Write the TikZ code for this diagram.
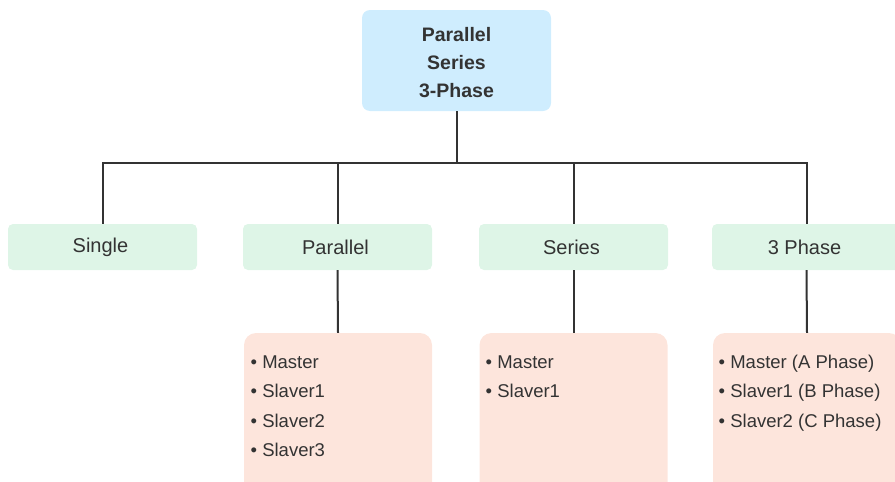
\documentclass[tikz,border=0pt]{standalone}
\usepackage{fontspec}
\setmainfont{Liberation Sans}
\usetikzlibrary{calc}
\definecolor{topblue}{RGB}{207,237,254}
\definecolor{midgreen}{RGB}{222,245,231}
\definecolor{lowpink}{RGB}{253,229,220}
\definecolor{ink}{RGB}{51,51,51}
\tikzset{
  topbox/.style={fill=topblue, rounded corners=8pt, minimum width=189pt, minimum height=101pt, inner sep=0pt},
  toptext/.style={inner sep=0pt, align=center, font=\fontsize{19.5}{28}\selectfont\bfseries, text=ink},
  midbox/.style={fill=midgreen, rounded corners=5pt, minimum width=189pt, minimum height=46pt, inner sep=0pt, font=\fontsize{20}{24}\selectfont, text=ink},
  lowbox/.style={fill=lowpink, rounded corners=12pt, minimum width=188pt, minimum height=170pt, inner sep=0pt},
  listtext/.style={inner sep=0pt, anchor=base west, font=\fontsize{18.5}{22}\selectfont, text=ink},
  conn/.style={draw=ink, line width=2pt},
}
\begin{document}
\begin{tikzpicture}[x=1pt,y=-1pt]
\useasboundingbox (0,0) rectangle (895,482);
\node[topbox] (top) at (456.5,60.5) {};
\node[toptext] (toplabel) at (456.5,63) {Parallel\\Series\\3-Phase};
\node[midbox] (single) at (102.5,247) {Single\kern4pt};
\node[midbox] (par) at (337.5,247) {Parallel\kern4pt};
\node[midbox] (ser) at (573.5,247) {Series\kern4pt};
\node[midbox] (tri) at (806.5,247) {3 Phase\kern4pt};
\node[lowbox] (lpar) at (338,418) {};
\node[lowbox] (lser) at (573.5,418) {};
\node[lowbox] (ltri) at (807,418) {};
\coordinate (bus) at (456.5,163);
\draw[conn] (top.south) -- (bus);
\draw[conn] (single.north) |- (bus) -| (tri.north);
\draw[conn] (par.north) -- (par.north |- bus);
\draw[conn] (ser.north) -- (ser.north |- bus);
\draw[conn] (par.south) -- (lpar.north);
\draw[conn] (ser.south) -- (lser.north);
\draw[conn] (tri.south) -- (ltri.north);
\node[listtext] (p1) at (250.5,368) {• Master};
\node[listtext] (p2) at (250.5,397.5) {• Slaver1};
\node[listtext] (p3) at (250.5,427) {• Slaver2};
\node[listtext] (p4) at (250.5,456) {• Slaver3};
\node[listtext] (s1) at (485.5,368) {• Master};
\node[listtext] (s2) at (485.5,397.5) {• Slaver1};
\node[listtext] (t1) at (718.5,368) {• Master (A Phase)};
\node[listtext] (t2) at (718.5,397.5) {• Slaver1 (B Phase)};
\node[listtext] (t3) at (718.5,427) {• Slaver2 (C Phase)};
\end{tikzpicture}
\end{document}
